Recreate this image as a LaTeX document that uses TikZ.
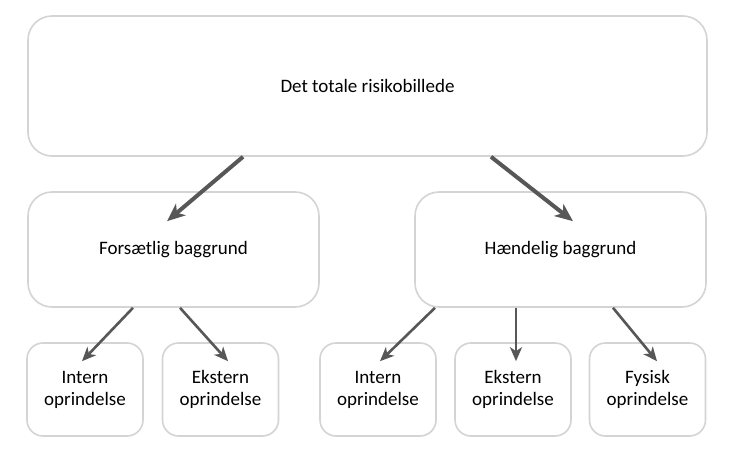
\documentclass[tikz,border=0pt]{standalone}
\usepackage{fontspec}
\setmainfont{Carlito}
\usetikzlibrary{arrows.meta}
\definecolor{boxgray}{HTML}{D4D4D4}
\definecolor{arrowgray}{HTML}{575757}

\tikzset{
  box/.style={draw=boxgray, line width=1.6pt, rounded corners=24pt, align=center,
    font=\fontsize{19}{22}\selectfont, text=black},
  smallbox/.style={box, rounded corners=16pt, minimum width=116pt, minimum height=93pt},
  bigarrow/.style={-{Stealth[length=18pt,width=15pt,inset=5pt]}, line width=4pt, draw=arrowgray},
  arrow/.style={-{Stealth[length=14pt,width=12pt,inset=4pt]}, line width=2.6pt, draw=arrowgray}
}

\begin{document}
\begin{tikzpicture}[x=1pt, y=-1pt]
\useasboundingbox[fill=white] (0,0) rectangle (741,468);
% top level
\node[box, minimum width=679pt, minimum height=140pt] (total) at (367.5,86) {Det totale risikobillede};
% second level
\node[box, minimum width=291pt, minimum height=115pt] (forsaet) at (173.5,249.5) {Forsætlig baggrund};
\node[box, minimum width=291pt, minimum height=115pt] (haendel) at (560.5,249.5) {Hændelig baggrund};
\draw[bigarrow] ([xshift=-124.5pt]total.south) -- ([xshift=-6.5pt, yshift=-30pt]forsaet.north);
\draw[bigarrow] ([xshift=123.5pt]total.south) -- ([xshift=12.5pt, yshift=-30pt]haendel.north);
% third level
\node[smallbox] (fintern) at (85,389.5) {Intern\\oprindelse};
\node[smallbox] (fekstern) at (220.5,389.5) {Ekstern\\oprindelse};
\node[smallbox] (hintern) at (378,389.5) {Intern\\oprindelse};
\node[smallbox] (hekstern) at (513,389.5) {Ekstern\\oprindelse};
\node[smallbox] (hfysisk) at (647.5,389.5) {Fysisk\\oprindelse};
\draw[arrow] ([xshift=-40.5pt]forsaet.south) -- ([xshift=-3pt, yshift=-19pt]fintern.north);
\draw[arrow] ([xshift=6.5pt]forsaet.south) -- ([xshift=7.5pt, yshift=-19pt]fekstern.north);
\draw[arrow] ([xshift=-125.5pt]haendel.south) -- ([xshift=2pt, yshift=-19pt]hintern.north);
\draw[arrow] ([xshift=-44.5pt]haendel.south) -- ([xshift=3pt, yshift=-19pt]hekstern.north);
\draw[arrow] ([xshift=52.5pt]haendel.south) -- ([xshift=9.5pt, yshift=-19pt]hfysisk.north);
\end{tikzpicture}
\end{document}
